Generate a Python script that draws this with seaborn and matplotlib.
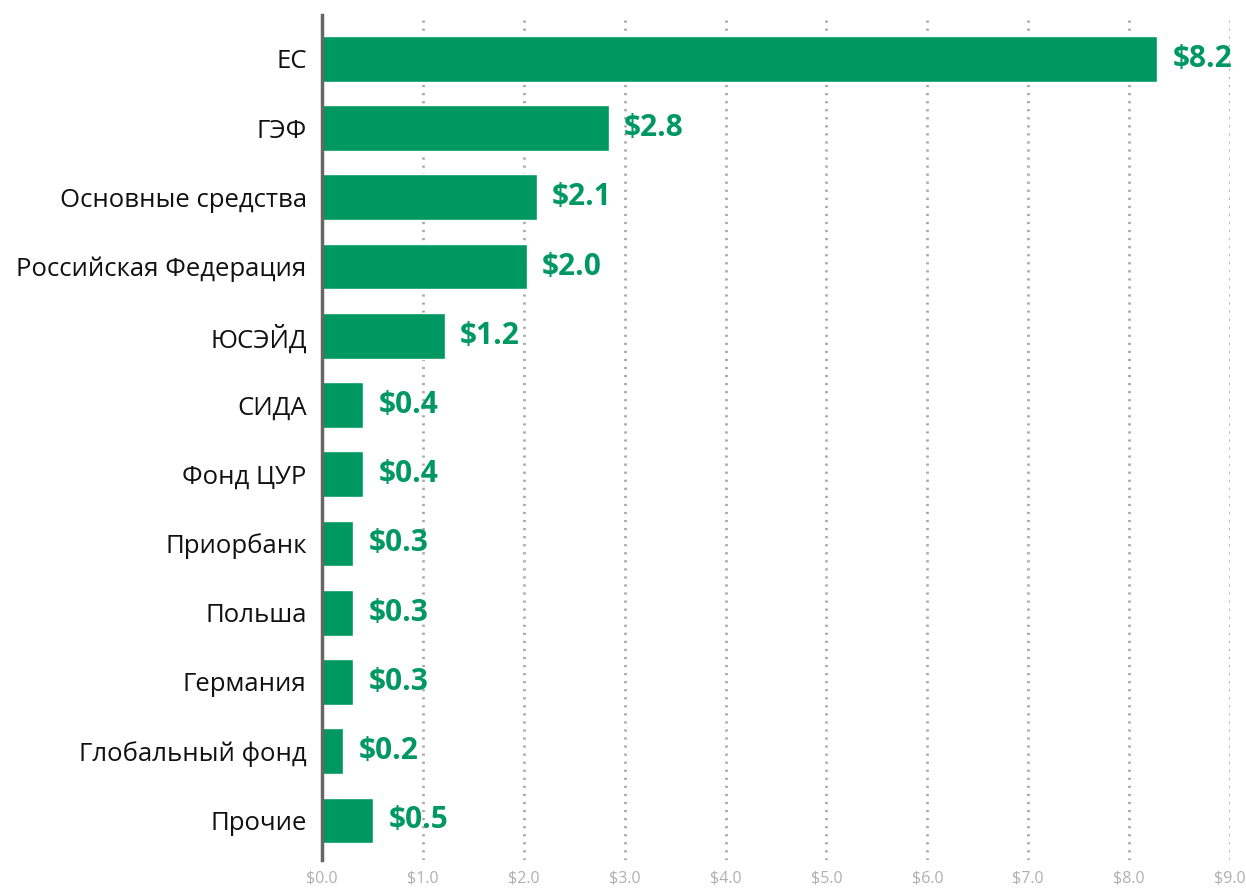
import pandas as pd
import matplotlib.pyplot as plt
import seaborn as sns

# data
donors = ["ЕС", "ГЭФ", "Основные средства", "Российская Федерация", "ЮСЭЙД",
          "СИДА", "Фонд ЦУР", "Приорбанк", "Польша", "Германия",
          "Глобальный фонд", "Прочие"]
amounts = [8.28, 2.84, 2.13, 2.03, 1.22, 0.41, 0.41, 0.31, 0.31, 0.31, 0.21, 0.51]
amount_labels = ["$8.2", "$2.8", "$2.1", "$2.0", "$1.2", "$0.4", "$0.4",
                 "$0.3", "$0.3", "$0.3", "$0.2", "$0.5"]
xticks = [0, 1, 2, 3, 4, 5, 6, 7, 8, 9]

green = "#009862"

def main():
    df = pd.DataFrame({"Donor": donors, "Amount": amounts})

    sns.set_theme(style="white")
    plt.rcParams['font.family'] = ['Open Sans', 'DejaVu Sans']

    fig = plt.figure(figsize=(12.46, 8.92), dpi=100)
    ax = fig.add_axes([0.2584, 0.036, 0.7288, 0.947])

    sns.barplot(data=df, x="Amount", y="Donor", color=green, saturation=1,
                width=0.66, ax=ax, zorder=3)

    # value labels
    for i, (v, lab) in enumerate(zip(amounts, amount_labels)):
        ax.text(v + 0.15, i, lab, va="center", ha="left", color=green,
                fontsize=21.5, fontweight="bold", fontstretch="condensed")

    ax.set_xlim(0, 9)
    ax.set_ylim(11.57, -0.63)
    ax.set_xticks(xticks)
    ax.set_xticklabels([f"${t:.1f}" for t in xticks], color="#b0b0b0", fontsize=11.5)
    ax.tick_params(axis="x", length=0, pad=8)
    ax.tick_params(axis="y", length=0, pad=11, labelsize=18.5, labelcolor="#111111")
    ax.set_xlabel("")
    ax.set_ylabel("")

    for x in xticks[1:]:
        ax.axvline(x, color="#aaaaaa", linestyle=(0, (0.8, 2.1)), linewidth=2,
                   zorder=1)

    for s in ["top", "right", "bottom"]:
        ax.spines[s].set_visible(False)
    ax.spines["left"].set_color("#666666")
    ax.spines["left"].set_linewidth(2.5)
    ax.spines["left"].set_zorder(4)

    fig.savefig("out.png", dpi=100)

if __name__ == "__main__":
    main()
